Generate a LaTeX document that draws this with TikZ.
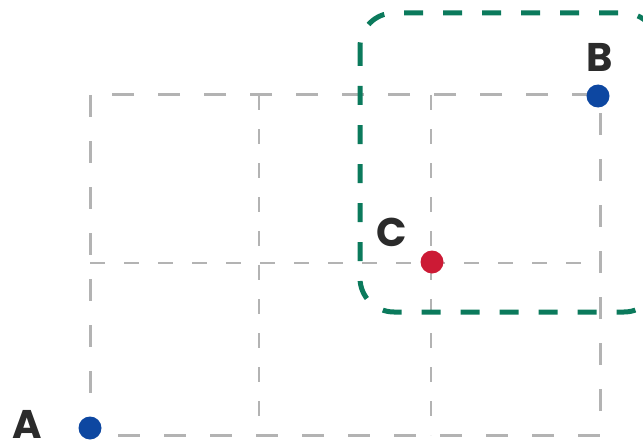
\documentclass[tikz,border=0pt]{standalone}
\usepackage{fontspec}
\setmainfont{Poppins}
\usepackage{xcolor}
\usetikzlibrary{positioning}
\definecolor{gridgray}{HTML}{B3B3B3}
\definecolor{zonegreen}{HTML}{0B7A5C}
\definecolor{ptblue}{HTML}{0D47A1}
\definecolor{ptred}{HTML}{CC1A35}
\definecolor{labelink}{HTML}{2B2B2B}

\begin{document}
\begin{tikzpicture}[
    x=1pt, y=-1pt,
    node distance=8pt and 10pt,
    frame/.style={draw=gridgray, line width=3pt, dash pattern=on 22pt off 24pt},
    gridline/.style={draw=gridgray, line width=2pt, dash pattern=on 15pt off 19pt},
    zone/.style={draw=zonegreen, line width=5pt, dash pattern=on 19pt off 20pt,
                 rounded corners=34pt},
    point/.style={circle, inner sep=0pt, minimum size=23pt},
    ptlabel/.style={font=\bfseries\fontsize{40}{40}\selectfont, text=labelink,
                    inner sep=0pt}
]
\useasboundingbox (0,0) rectangle (643,444);
% grid
\draw[gridline] (259,95) -- (259,435);
\draw[gridline] (431,95) -- (431,435);
\draw[gridline] (90,263) -- (600,263);
\draw[frame] (90,95) rectangle (600,435);
% zone round B and C
\draw[zone] (360,13) rectangle (658,312);
% points
\node[point, fill=ptblue] (a) at (90,428) {};
\node[point, fill=ptblue] (b) at (598,96) {};
\node[point, fill=ptred] (c) at (432,262) {};
\node[ptlabel, left=63pt of a.center, anchor=center, yshift=4pt] (la) {A};
\node[ptlabel, above=39pt of b.center, anchor=center, xshift=2pt] (lb) {B};
\node[ptlabel, above left=30pt and 40pt of c.center, anchor=center] (lc) {C};
\end{tikzpicture}
\end{document}
